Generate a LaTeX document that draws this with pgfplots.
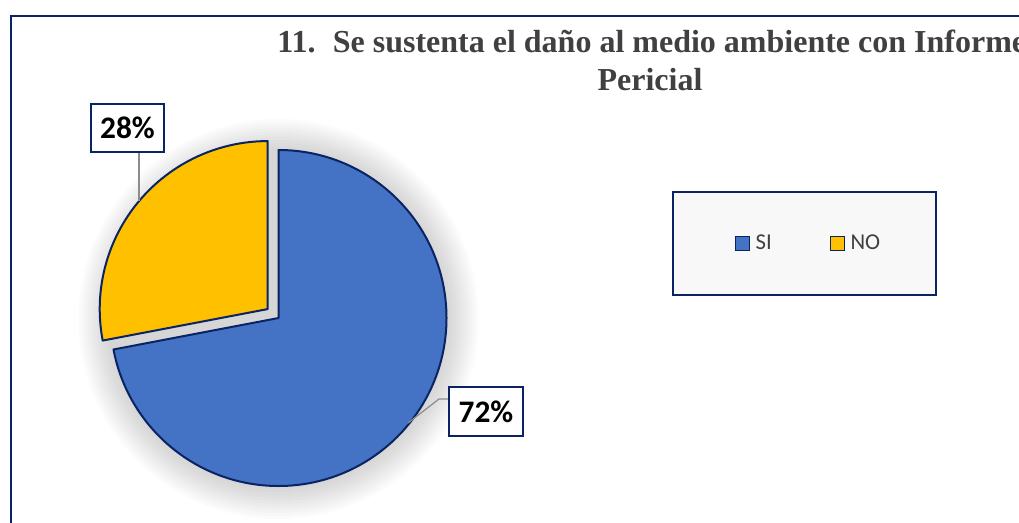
\documentclass[border=0pt]{standalone}
\usepackage{pgfplots}
\pgfplotsset{compat=1.18}
\usepackage{pgfplotstable}
\usepackage{fontspec}
\setmainfont{Liberation Serif}
\newfontfamily\calibri{Carlito}

\definecolor{siblue}{HTML}{4472C4}
\definecolor{noyellow}{HTML}{FFC000}
\definecolor{edge}{HTML}{0A2363}
\definecolor{titlegray}{HTML}{404040}
\definecolor{leggray}{HTML}{F8F8F8}
\definecolor{leader}{HTML}{8C8C8C}

% answers to question 11 (percent)
\pgfplotstableread{
label value
SI    72
NO    28
}\piedata

\pgfplotstablegetelem{0}{value}\of\piedata \edef\vsi{\pgfplotsretval}
\pgfplotstablegetelem{1}{value}\of\piedata \edef\vno{\pgfplotsretval}
\pgfmathsetmacro\asi{90-3.6*\vsi}   % SI runs clockwise from 12 o'clock
\pgfmathsetmacro\ano{90+3.6*\vno}   % NO fills the rest
\pgfmathsetmacro\amid{90+1.8*\vno}  % NO is pulled out along its middle

\begin{document}
\begin{tikzpicture}
  % 1 px of the reference = 0.75pt
  \path[use as bounding box] (0,0) rectangle (764.25pt,391.5pt);
  \begin{axis}[
      width=764.25pt, height=391.5pt, scale only axis,
      hide axis, clip=false,
      xmin=0, xmax=1019, ymin=0, ymax=522,
      legend columns=2,
      legend image code/.code={\draw[#1,line width=1.2pt] (0pt,-5.2pt) rectangle (10.4pt,5.2pt);},
      legend style={at={(axis cs:808.5,278.5)}, anchor=center,
        draw=none, fill=none, column sep=0pt,
        font=\calibri\fontsize{17}{20}\selectfont\color{titlegray},
        nodes={inner sep=1.5pt},
        /tikz/every odd column/.append style={column sep=2.5pt},
        /tikz/every even column/.append style={column sep=42pt}},
    ]
    \addlegendimage{fill=siblue,draw=edge}
    \addlegendentry{SI}
    \addlegendimage{fill=noyellow,draw=edge}
    \addlegendentry{NO}

    % soft shadow round the pie
    \pgfplotsinvokeforeach{200,197,...,170}{
      \fill[black,opacity=0.016] (axis cs:278.5,203) circle[radius=0.75*#1 pt];
    }

    % SI slice
    \filldraw[fill=siblue,draw=edge,line width=1.5pt,line join=round]
      (axis cs:278.5,204) -- ++(90:126pt) arc[start angle=90,end angle=\asi,radius=126pt] -- cycle;
    % NO slice, exploded
    \path (axis cs:278.5,204) ++(\amid:10.5pt) coordinate (ncen);
    \filldraw[fill=noyellow,draw=edge,line width=1.5pt,line join=round]
      (ncen) -- ++(90:126pt) arc[start angle=90,end angle=\ano,radius=126pt] -- cycle;

    % leader lines and data labels
    \draw[leader,line width=0.9pt] (axis cs:139,370) -- (axis cs:139,321);
    \draw[leader,line width=0.9pt] (axis cs:408,99) -- (axis cs:439,123) -- (axis cs:449,123);
    \node[draw=edge,line width=1.5pt,fill=white,minimum width=54.75pt,minimum height=36pt,inner sep=0pt,
      font=\calibri\bfseries\fontsize{23.5}{28}\selectfont] at (axis cs:127.5,394) {\vno\%};
    \node[draw=edge,line width=1.5pt,fill=white,minimum width=55.5pt,minimum height=36.75pt,inner sep=0pt,
      font=\calibri\bfseries\fontsize{23.5}{28}\selectfont] at (axis cs:486,110.5) {\vsi\%};

    % legend frame
    \filldraw[fill=leggray,draw=edge,line width=1.5pt] (axis cs:673,330) rectangle (axis cs:936,227);

    % title
    \node[anchor=base west,inner sep=0pt,text=titlegray,font=\bfseries\fontsize{24}{28}\selectfont]
      at (axis cs:277,469) {11.\hspace{13pt}Se sustenta el daño al medio ambiente con Informe};
    \node[anchor=base,inner sep=0pt,text=titlegray,font=\bfseries\fontsize{24}{28}\selectfont]
      at (axis cs:650,431) {Pericial};

    % chart area frame (runs off the right and bottom edges)
    \draw[edge,line width=1.5pt] (axis cs:1030,506) -- (axis cs:11,506) -- (axis cs:11,-10);
  \end{axis}
\end{tikzpicture}
\end{document}
